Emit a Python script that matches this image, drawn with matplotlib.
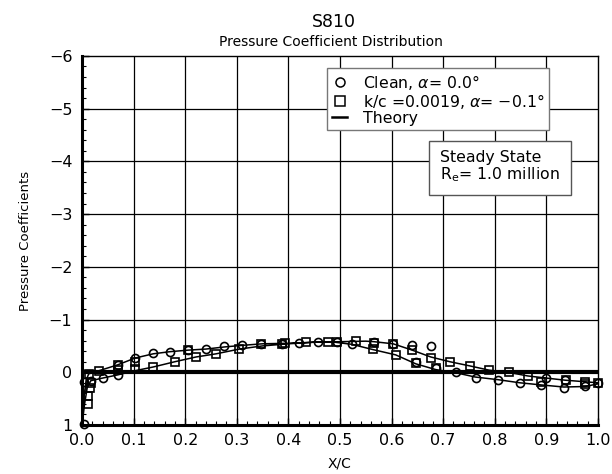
import numpy as np
import matplotlib
matplotlib.use('Agg')
import matplotlib.pyplot as plt
from matplotlib.lines import Line2D

# theory curve (upper = slow recovery, lower = fast)
theory_up_x = [0.0, 0.004, 0.008, 0.013, 0.033, 0.069, 0.103, 0.138, 0.17, 0.206, 0.24,
               0.276, 0.31, 0.35, 0.40, 0.45, 0.50, 0.55, 0.566, 0.603, 0.64, 0.676,
               0.713, 0.752, 0.789, 0.826, 0.864, 0.90, 0.936, 0.975, 1.0]
theory_up_cp = [1.0, 0.45, 0.15, 0.03, -0.03, -0.14, -0.27, -0.35, -0.39, -0.42, -0.44,
                -0.48, -0.51, -0.54, -0.55, -0.57, -0.58, -0.59, -0.58, -0.54, -0.42, -0.29,
                -0.2, -0.12, -0.04, 0.0, 0.07, 0.11, 0.15, 0.18, 0.2]
theory_lo_x = [0.0, 0.005, 0.01, 0.017, 0.04, 0.069, 0.103, 0.138, 0.18, 0.221, 0.26,
               0.305, 0.35, 0.40, 0.45, 0.49, 0.523, 0.564, 0.608, 0.647, 0.686, 0.725,
               0.762, 0.806, 0.849, 0.89, 0.934, 0.975, 1.0]
theory_lo_cp = [1.0, 0.6, 0.3, 0.16, 0.11, 0.05, -0.03, -0.1, -0.2, -0.29, -0.35,
                -0.44, -0.5, -0.54, -0.57, -0.57, -0.53, -0.43, -0.33, -0.16, -0.05, 0.01,
                0.09, 0.14, 0.2, 0.24, 0.28, 0.27, 0.22]

# clean airfoil (circles)
clean_x = [0.003, 0.003, 0.017, 0.04, 0.069, 0.069, 0.103, 0.138, 0.17, 0.206, 0.24,
           0.276, 0.31, 0.346, 0.387, 0.42, 0.458, 0.494, 0.523, 0.566, 0.603, 0.64,
           0.647, 0.676, 0.686, 0.725, 0.764, 0.806, 0.849, 0.89, 0.90, 0.934, 0.936,
           0.975, 1.0]
clean_cp = [0.98, 0.18, 0.16, 0.11, 0.05, -0.14, -0.27, -0.36, -0.39, -0.42, -0.44,
            -0.49, -0.51, -0.54, -0.54, -0.56, -0.58, -0.58, -0.53, -0.58, -0.54, -0.52,
            -0.2, -0.5, -0.08, -0.01, 0.1, 0.14, 0.2, 0.24, 0.11, 0.29, 0.15,
            0.26, 0.21]

# rough, k/c = 0.0019 (squares)
rough_x = [0.011, 0.012, 0.015, 0.013, 0.017, 0.033, 0.069, 0.069, 0.103, 0.103, 0.138,
           0.18, 0.206, 0.221, 0.26, 0.305, 0.346, 0.387, 0.393, 0.434, 0.477, 0.494,
           0.531, 0.564, 0.566, 0.603, 0.608, 0.64, 0.647, 0.676, 0.686, 0.713, 0.752,
           0.789, 0.828, 0.864, 0.89, 0.938, 0.975, 0.975, 1.0]
rough_cp = [0.6, 0.45, 0.3, 0.03, 0.2, -0.03, -0.04, -0.14, -0.2, -0.06, -0.1,
            -0.2, -0.42, -0.29, -0.35, -0.44, -0.54, -0.54, -0.55, -0.57, -0.57, -0.58,
            -0.6, -0.45, -0.55, -0.54, -0.33, -0.42, -0.18, -0.28, -0.08, -0.2, -0.12,
            -0.04, 0.0, 0.08, 0.18, 0.15, 0.18, 0.22, 0.2]

fig = plt.figure(figsize=(6.12, 4.74), dpi=100)
ax = fig.add_axes([0.134, 0.1034, 0.843, 0.7786])

# grid
for gx in np.arange(0.1, 1.0, 0.1):
    ax.axvline(gx, color='black', lw=0.9, zorder=1)
for gy in range(-5, 1):
    ax.axhline(gy, color='black', lw=0.9, zorder=1)
ax.plot([0, 1], [0, 0], color='black', lw=3, zorder=2)

th_x = theory_up_x[::-1] + theory_lo_x
th_cp = theory_up_cp[::-1] + theory_lo_cp
ax.plot(th_x, th_cp, color='black', lw=1.1, zorder=3)

ax.plot(clean_x, clean_cp, 'o', ms=5.8, mfc='none', mec='black', mew=1.2,
        clip_on=False, zorder=4)
ax.plot(rough_x, rough_cp, 's', ms=5.5, mfc='none', mec='black', mew=1.2,
        clip_on=False, zorder=4)

ax.set_xlim(0, 1)
ax.set_ylim(1, -6)
ax.set_xticks(np.arange(0, 1.01, 0.1))
ax.set_xticklabels(['%.1f' % v for v in np.arange(0, 1.01, 0.1)])
ax.set_xticks(np.arange(0, 1.001, 0.02), minor=True)
ax.set_yticks(range(-6, 2))
ax.set_yticks(np.arange(-6, 1.01, 0.2), minor=True)
ax.tick_params(which='both', direction='in', top=False, right=False,
               labelsize=11.5)
ax.tick_params(axis='x', pad=6)
ax.tick_params(axis='y', pad=7)
ax.tick_params(which='major', length=5, width=1)
ax.tick_params(which='minor', length=3, width=0.8)

for s in ['left', 'bottom']:
    ax.spines[s].set_linewidth(2.2)
for s in ['top', 'right']:
    ax.spines[s].set_linewidth(1.0)

ax.set_xlabel('X/C', fontsize=10, labelpad=6)
ax.set_ylabel('Pressure Coefficients', fontsize=9.5, labelpad=12)

fig.text(0.545, 0.953, 'S810', ha='center', va='center', fontsize=12.5)
fig.text(0.540, 0.911, 'Pressure Coefficient Distribution', ha='center',
         va='center', fontsize=10)

handles = [
    Line2D([], [], marker='o', ls='none', ms=6.5, mfc='none', mec='black', mew=1.1),
    Line2D([], [], marker='s', ls='none', ms=6.5, mfc='none', mec='black', mew=1.1),
    Line2D([], [], color='black', lw=1.8),
]
labels = [r'Clean, $\alpha$= 0.0°', r'k/c =0.0019, $\alpha$= −0.1°', 'Theory']
leg = ax.legend(handles, labels, loc='upper left',
                bbox_to_anchor=(327 / 612, 1 - 68 / 474),
                bbox_transform=fig.transFigure, fontsize=11.3, frameon=True,
                fancybox=False, framealpha=1, edgecolor='#777777',
                handlelength=1.0, handletextpad=1.0, borderpad=0.3,
                labelspacing=0.0, borderaxespad=0)
leg.get_frame().set_linewidth(1.0)

fig.text(440 / 612, 1 - 167 / 474, 'Steady State\nR$_{\\mathrm{e}}$= 1.0 million',
         ha='left', va='center', fontsize=11.3, linespacing=1.05,
         bbox=dict(boxstyle='square,pad=0.7', fc='white', ec='#555555', lw=1.0))

fig.savefig('out.png', dpi=100)
